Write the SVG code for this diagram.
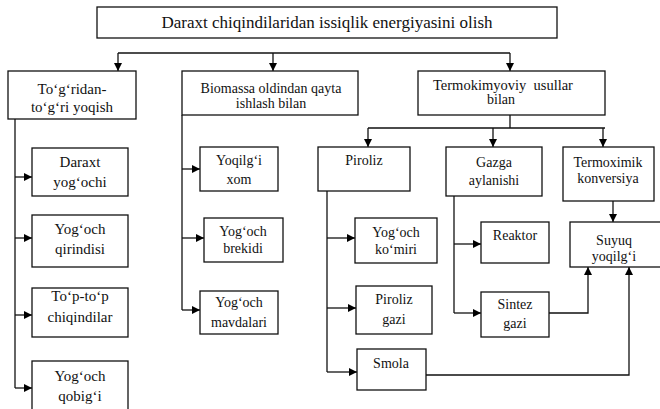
<svg xmlns="http://www.w3.org/2000/svg" width="660" height="409" viewBox="0 0 660 409">
<defs>
<marker id="ah" markerUnits="userSpaceOnUse" markerWidth="9" markerHeight="9" refX="8" refY="4" orient="auto">
<path d="M0,0 L8,4 L0,8 z" fill="#000"/>
</marker>
<style>
.b{fill:#fff;stroke:#111;stroke-width:1.3}
text{font-family:'Liberation Serif','Times New Roman','DejaVu Serif',serif;font-size:14px;fill:#111;text-anchor:middle}
.l{font-size:15px}
.c path{fill:none;stroke:#111;stroke-width:1.3}
.a{marker-end:url(#ah)}
</style>
</defs>
<rect width="660" height="409" fill="#fff"/>
<g class="c" id="connectors">
<path d="M118,53 H510"/>
<path class="a" d="M118,53 V71"/>
<path class="a" d="M273,53 V71"/>
<path class="a" d="M510,53 V71"/>
<path d="M510,115 V128 M368,128 H605"/>
<path class="a" d="M368,128 V147"/>
<path class="a" d="M493,128 V147"/>
<path class="a" d="M603,128 V147"/>
<path d="M15,119 V388"/>
<path class="a" d="M15,177 H32"/>
<path class="a" d="M15,238 H32"/>
<path class="a" d="M15,315 H32"/>
<path class="a" d="M15,388 H32"/>
<path d="M182,115 V310"/>
<path class="a" d="M182,169 H200"/>
<path class="a" d="M182,238 H204"/>
<path class="a" d="M182,310 H200"/>
<path d="M327,191 V372"/>
<path class="a" d="M327,238 H355"/>
<path class="a" d="M327,308 H356"/>
<path class="a" d="M327,372 H357"/>
<path d="M454,192 V313"/>
<path class="a" d="M454,244 H481"/>
<path class="a" d="M454,313 H481"/>
<path class="a" d="M613,201 V222"/>
<path class="a" d="M549,313 H588 V267"/>
<path class="a" d="M426,375 H629 V267"/>
</g>
<g id="root"><rect class="b" x="97" y="7" width="460" height="31"/><text x="327" y="28" style="font-size:17px">Daraxt chiqindilaridan issiqlik energiyasini olish</text></g>
<g id="togridan"><rect class="b" x="8" y="71" width="128" height="48"/><text class="l" x="72" y="94">To‘g‘ridan-</text><text class="l" x="72" y="112">to‘g‘ri yoqish</text></g>
<g id="biomassa"><rect class="b" x="182" y="71" width="176" height="44"/><text x="271" y="93">Biomassa oldindan qayta</text><text x="271" y="108">ishlash bilan</text></g>
<g id="termokimyoviy"><rect class="b" x="418" y="71" width="187" height="44"/><text x="503" y="90" style="font-size:14.5px" xml:space="preserve">Termokimyoviy  usullar</text><text x="501" y="104">bilan</text></g>
<g id="daraxt"><rect class="b" x="32" y="148" width="96" height="48"/><text class="l" x="80" y="167">Daraxt</text><text class="l" x="80" y="187">yog‘ochi</text></g>
<g id="qirindisi"><rect class="b" x="32" y="215" width="96" height="52"/><text class="l" x="80" y="234">Yog‘och</text><text class="l" x="80" y="254">qirindisi</text></g>
<g id="topto"><rect class="b" x="32" y="288" width="96" height="49"/><text class="l" x="80" y="301">To‘p-to‘p</text><text class="l" x="80" y="322">chiqindilar</text></g>
<g id="qobigi"><rect class="b" x="32" y="361" width="96" height="60"/><text class="l" x="80" y="381">Yog‘och</text><text class="l" x="80" y="401">qobig‘i</text></g>
<g id="xom"><rect class="b" x="200" y="147" width="78" height="44"/><text x="239" y="165">Yoqilg‘i</text><text x="239" y="184">xom</text></g>
<g id="brekidi"><rect class="b" x="204" y="218" width="79" height="44"/><text x="243" y="236">Yog‘och</text><text x="243" y="253">brekidi</text></g>
<g id="mavdalari"><rect class="b" x="200" y="291" width="78" height="43"/><text x="239" y="307">Yog‘och</text><text x="239" y="327">mavdalari</text></g>
<g id="piroliz"><rect class="b" x="318" y="147" width="92" height="44"/><text x="364" y="165">Piroliz</text></g>
<g id="gazga"><rect class="b" x="446" y="147" width="96" height="49"/><text x="494" y="167">Gazga</text><text x="494" y="185">aylanishi</text></g>
<g id="termoximik"><rect class="b" x="563" y="147" width="91" height="54"/><text x="608" y="167">Termoximik</text><text x="608" y="183">konversiya</text></g>
<g id="komiri"><rect class="b" x="355" y="218" width="82" height="45"/><text x="396" y="237">Yog‘och</text><text x="396" y="254">ko‘miri</text></g>
<g id="reaktor"><rect class="b" x="481" y="222" width="68" height="41"/><text x="515" y="240">Reaktor</text></g>
<g id="suyuq"><rect class="b" x="570" y="222" width="92" height="45"/><text x="614" y="245">Suyuq</text><text x="614" y="261">yoqilg‘i</text></g>
<g id="pirolizgazi"><rect class="b" x="356" y="286" width="76" height="48"/><text x="394" y="304">Piroliz</text><text x="394" y="324">gazi</text></g>
<g id="sintez"><rect class="b" x="481" y="292" width="68" height="45"/><text x="515" y="309">Sintez</text><text x="515" y="328">gazi</text></g>
<g id="smola"><rect class="b" x="357" y="349" width="69" height="41"/><text x="391" y="368">Smola</text></g>
</svg>
